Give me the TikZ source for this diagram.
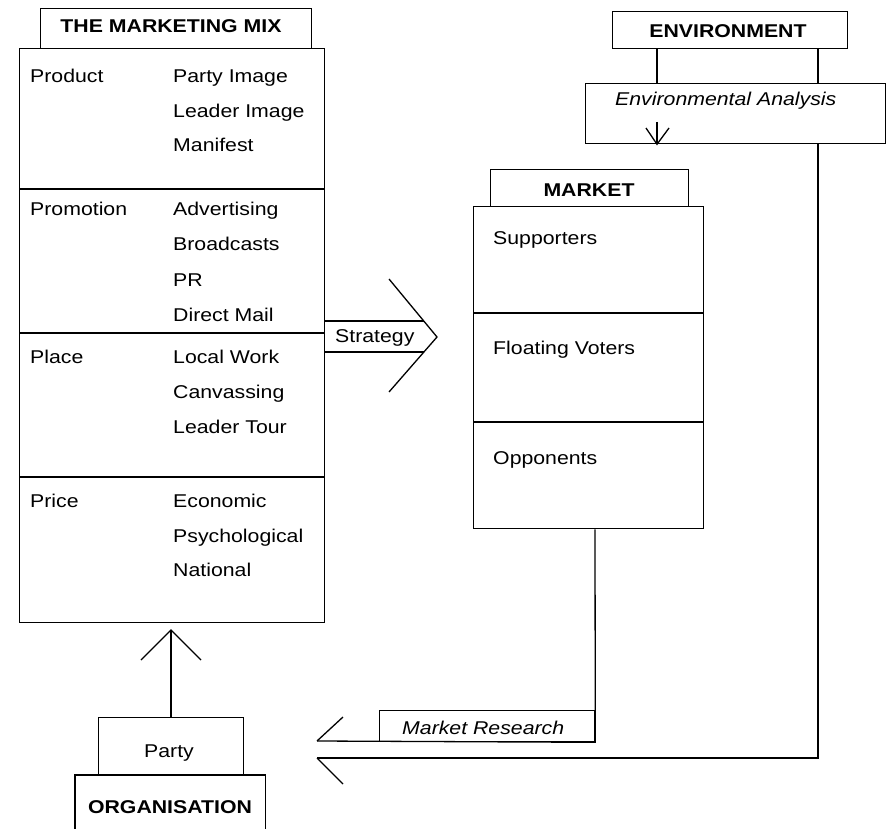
\documentclass[tikz,border=0pt]{standalone}
\usepackage{fontspec}
\setmainfont{Liberation Sans}[FakeStretch=1.15]
\begin{document}
\begin{tikzpicture}[x=1pt, y=-1pt,
  every node/.style={font=\fontsize{18.5}{20}\selectfont},
  box/.style={draw, line width=1.3pt, inner sep=0pt, anchor=north west},
  frame/.style={inner sep=0pt, anchor=north west},
  lbl/.style={anchor=base west, inner sep=0pt},
  ilbl/.style={anchor=base west, inner sep=0pt, font=\fontsize{18.5}{20}\selectfont\itshape},
  ttl/.style={anchor=base, inner sep=0pt, font=\fontsize{18.5}{20}\selectfont\bfseries},
  ctr/.style={anchor=base, inner sep=0pt},
  ln/.style={line width=1.3pt, line join=miter}]
\useasboundingbox (0,0) rectangle (886,829);
\fill[white] (0,0) rectangle (886,829);

% ---------- the marketing mix ----------
\node[box, minimum width=271, minimum height=40] (mixhead) at (40,8) {};
\node[ttl] (mixtitle) at (171,33) {THE MARKETING MIX};
\node[box, minimum width=305, minimum height=574] (mix) at (19,48) {};
\draw[ln] (19,189) -- (324,189);
\draw[ln] (19,333) -- (324,333);
\draw[ln] (19,477) -- (324,477);

\node[lbl] (product) at (30,83) {Product};
\node[lbl] (p1) at (173,83) {Party Image};
\node[lbl] (p2) at (173,118) {Leader Image};
\node[lbl] (p3) at (173,152) {Manifest};

\node[lbl] (promotion) at (30,216) {Promotion};
\node[lbl] (q1) at (173,216) {Advertising};
\node[lbl] (q2) at (173,251) {Broadcasts};
\node[lbl] (q3) at (173,286) {PR};
\node[lbl] (q4) at (173,321) {Direct Mail};

\node[lbl] (place) at (30,363) {Place};
\node[lbl] (r1) at (173,363) {Local Work};
\node[lbl] (r2) at (173,398) {Canvassing};
\node[lbl] (r3) at (173,433) {Leader Tour};

\node[lbl] (price) at (30,507) {Price};
\node[lbl] (s1) at (173,507) {Economic};
\node[lbl] (s2) at (173,542) {Psychological};
\node[lbl] (s3) at (173,576) {National};

% ---------- environment ----------
\node[box, minimum width=235, minimum height=37] (env) at (612,11) {};
\node[ttl] (envtitle) at (728,38) {ENVIRONMENT};
\node[box, minimum width=300, minimum height=60] (ana) at (585,83) {};
\node[ilbl] (anatext) at (615,106) {Environmental Analysis};
\draw[ln] (657,0 |- env.south) -- (657,0 |- ana.north);
\draw[ln] (818,0 |- env.south) -- (818,0 |- ana.north);
% small downward arrow inside the analysis box
\coordinate (anatip) at (657,0 |- ana.south);
\draw[ln] (657,122) -- (anatip);
\draw[ln] (646,128) -- (anatip) -- (669,128);

% ---------- market ----------
\node[box, minimum width=198, minimum height=37] (markhead) at (490,169) {};
\node[ttl] (marktitle) at (589,197) {MARKET};
\node[box, minimum width=230, minimum height=322] (market) at (473,206) {};
\draw[ln] (473,313) -- (703,313);
\draw[ln] (473,422) -- (703,422);
\node[lbl] (sup) at (493,244) {Supporters};
\node[lbl] (flo) at (493,354) {Floating Voters};
\node[lbl] (opp) at (493,464) {Opponents};

% ---------- strategy arrow ----------
\node[lbl] (strat) at (335,342) {Strategy};
\coordinate (sttip) at (437,337);
\draw[ln] (mix.east |- 0,321) -- (424,321);
\draw[ln] (mix.east |- 0,352) -- (424,352);
\draw[ln] (389,279) -- (sttip) -- (389,392);

% ---------- market research feedback ----------
\node[box, minimum width=215, minimum height=31] (mres) at (379,710) {};
\node[ilbl] (mrestext) at (402,734) {Market Research};
\coordinate (mrtip) at (317,741);
\coordinate (envtip) at (317,758);
\draw[ln] (595,0 |- market.south) -- (mres.south east) -- (mrtip);
\draw[ln] (343,717) -- (mrtip);
\draw[ln] (ana.south -| 818,0) -- (818,758) -- (envtip);
\draw[ln] (envtip) -- (343,784);

% ---------- organisation ----------
\node[box, minimum width=145, minimum height=58] (party) at (98,717) {};
\node[ctr] (partytext) at (169,757) {Party};
\node[frame, minimum width=190, minimum height=60] (org) at (75,775) {};
\draw[ln] (org.south west) -- (org.north west) -- (org.north east) -- (org.south east);
\node[ttl] (orgtext) at (170,813) {ORGANISATION};
\coordinate (uptip) at (171,630);
\draw[ln] (171,0 |- party.north) -- (uptip);
\draw[ln] (141,660) -- (uptip) -- (201,660);
\end{tikzpicture}
\end{document}
